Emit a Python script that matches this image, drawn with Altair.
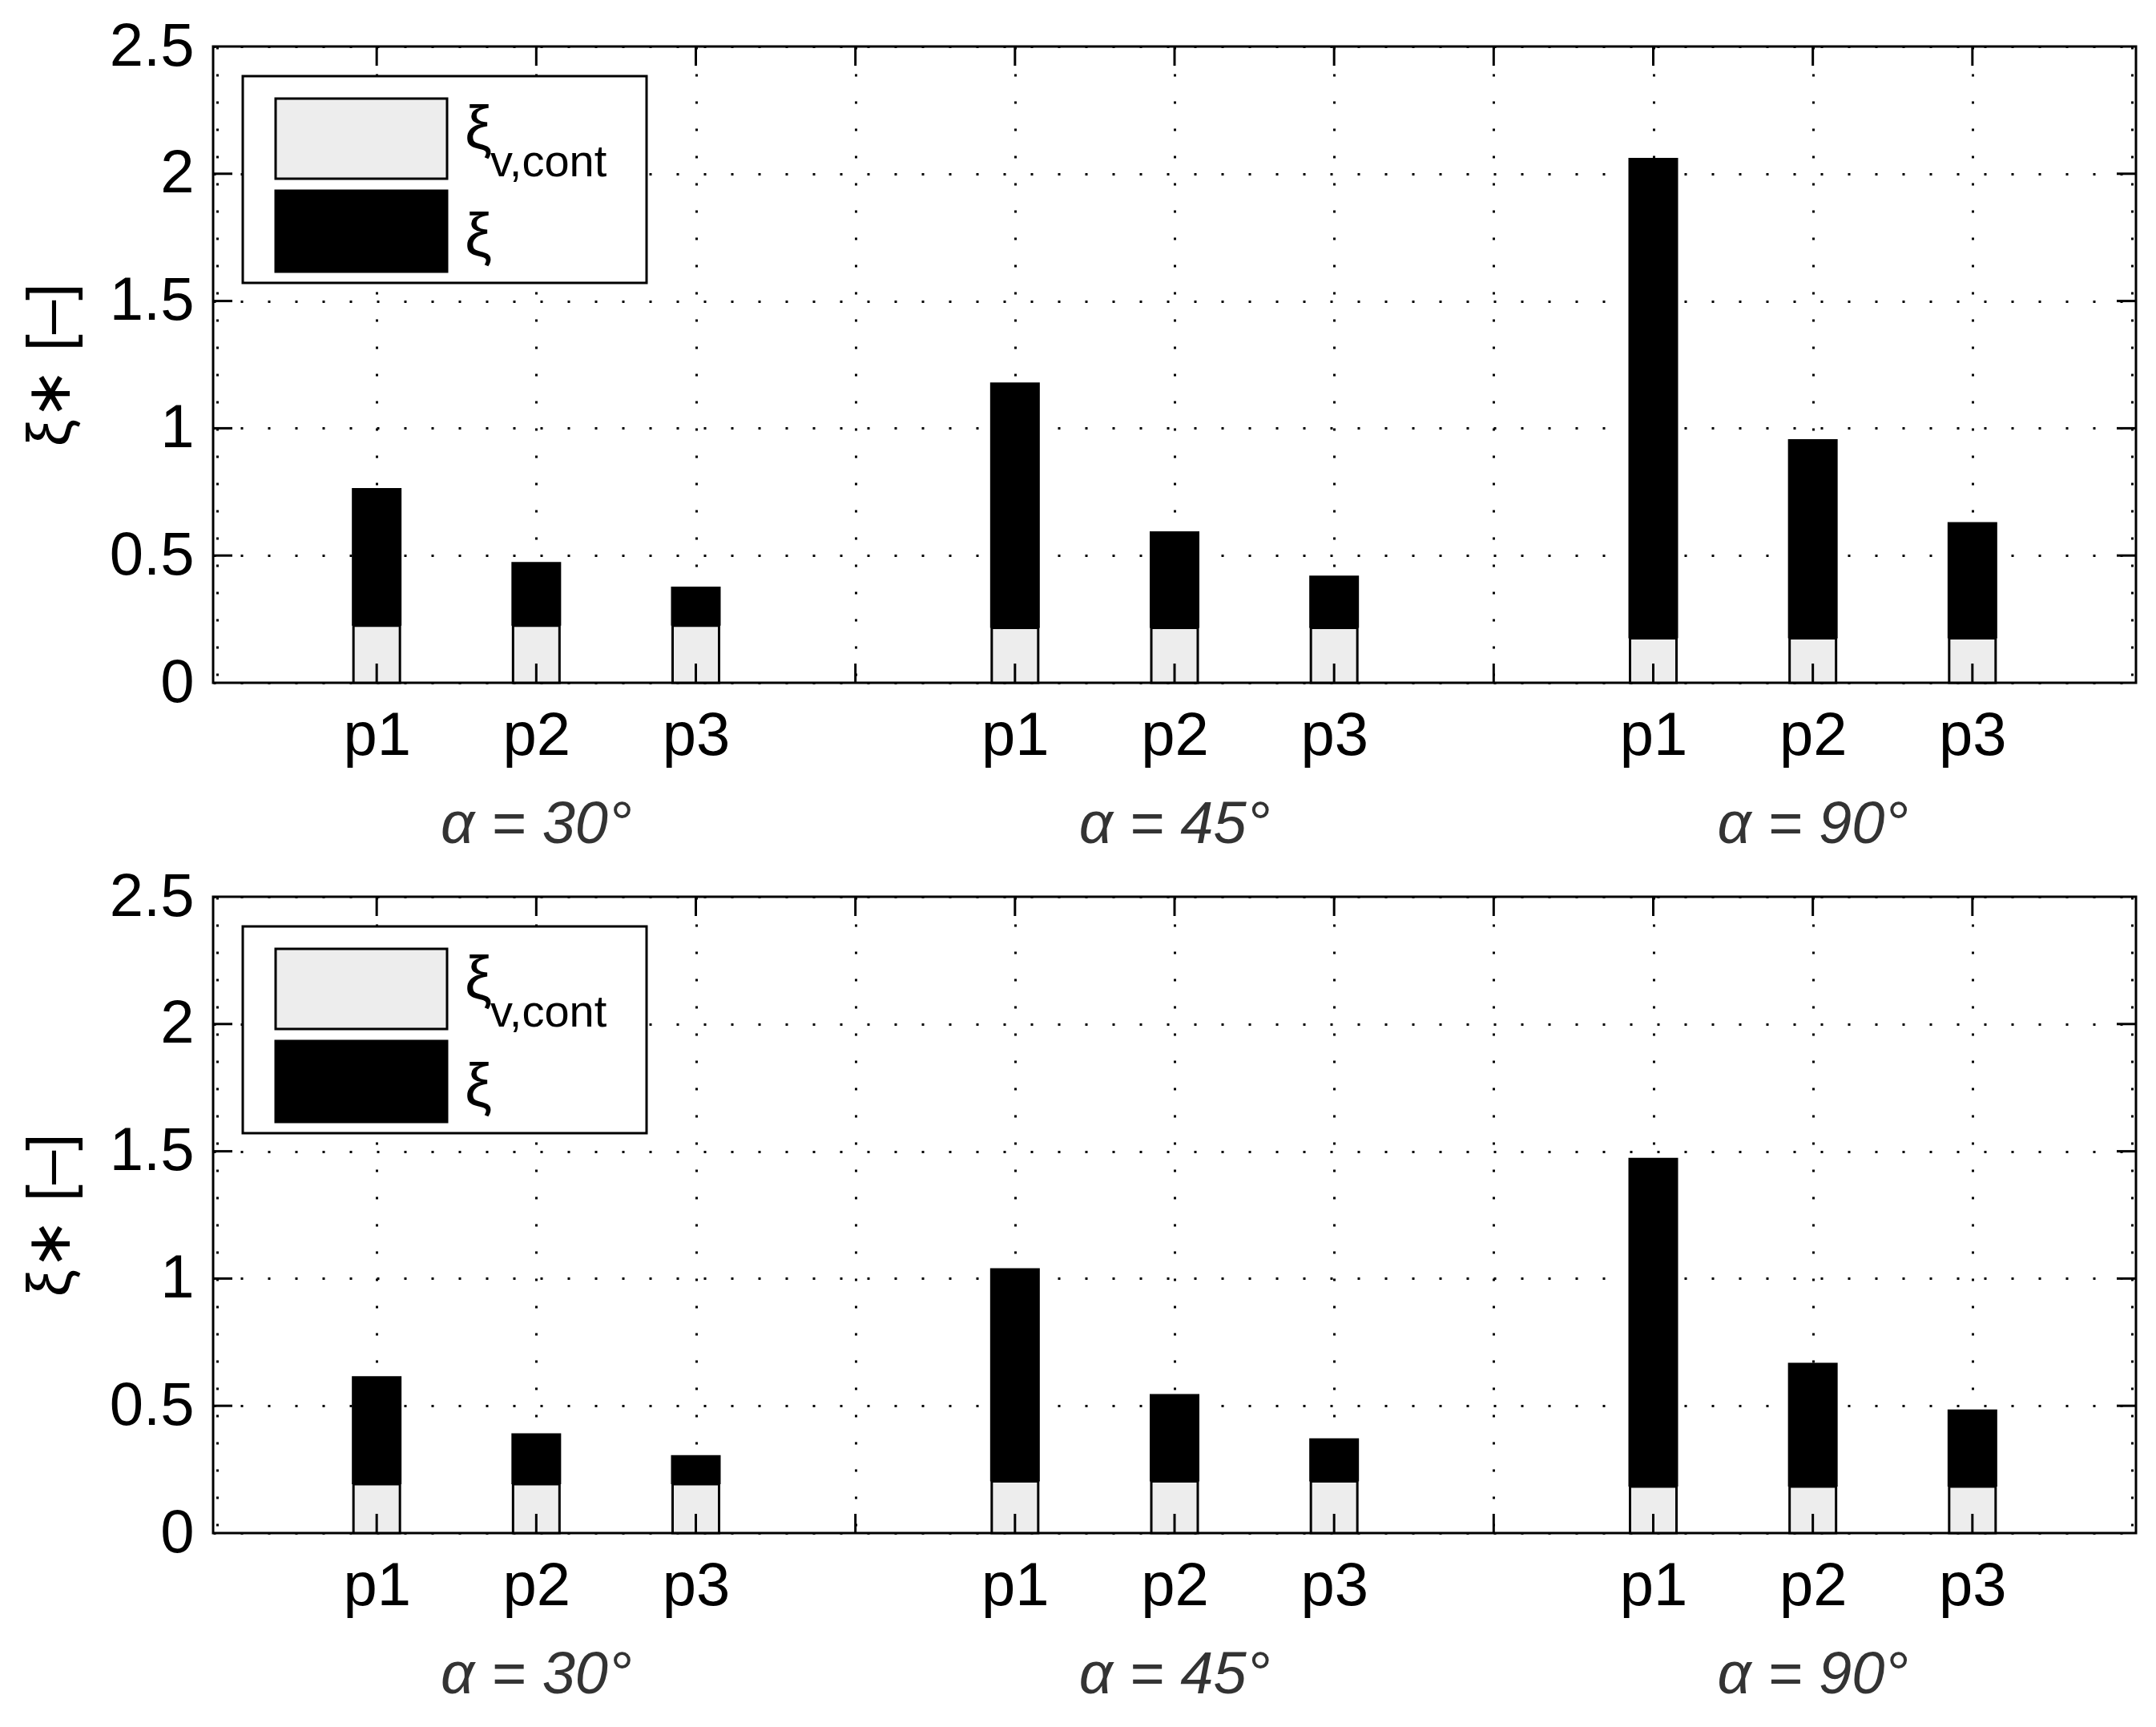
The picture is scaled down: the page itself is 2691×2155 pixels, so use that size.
import altair as alt
import pandas as pd

# ---- data ----
positions = [1, 2, 3, 5, 6, 7, 9, 10, 11]
point_names = ["p1", "p2", "p3", "p1", "p2", "p3", "p1", "p2", "p3"]
group_labels = ["α = 30°", "α = 45°", "α = 90°"]
group_centers = [2, 6, 10]

top_total = [0.765, 0.475, 0.378, 1.180, 0.595, 0.421, 2.062, 0.957, 0.631]
top_cont = [0.224, 0.224, 0.224, 0.216, 0.216, 0.216, 0.175, 0.175, 0.175]
bottom_total = [0.616, 0.392, 0.306, 1.041, 0.546, 0.372, 1.474, 0.669, 0.486]
bottom_cont = [0.192, 0.192, 0.192, 0.203, 0.203, 0.203, 0.183, 0.183, 0.183]

x_ticks = list(range(0, 13))
y_ticks = [0, 0.5, 1, 1.5, 2, 2.5]
legend_main = ["ξ", "ξ"]
legend_sub = ["v,cont"]
y_title = "ξ∗ [–]"

W, H = 2400, 794
FONT = "Liberation Sans"
FS = 76
LIGHT = "#ededed"

xscale = alt.Scale(domain=[0, 12], nice=False, zero=False)
yscale = alt.Scale(domain=[0, 2.5], nice=False)

xaxis = alt.Axis(
    values=x_ticks,
    labelExpr="datum.value % 4 == 0 ? '' : 'p' + (datum.value % 4)",
    grid=True, gridDash=[3, 31], gridColor="black", gridWidth=3, gridOpacity=1,
    ticks=False, tickSize=0, domain=False,
    labelFont=FONT, labelFontSize=FS, labelColor="black", labelPadding=29,
    labelBaseline="top", title=None,
)
yaxis = alt.Axis(
    values=y_ticks, format="~g",
    grid=True, gridDash=[3, 31], gridColor="black", gridWidth=3, gridOpacity=1,
    ticks=False, tickSize=0, domain=False,
    labelFont=FONT, labelFontSize=FS, labelColor="black", labelPadding=24,
    title=y_title, titleFont=FONT, titleFontSize=FS, titleFontWeight="normal",
    titleColor="black", titlePadding=34,
)


def X(field):
    return alt.X(field, scale=xscale, axis=xaxis)


def Y(field):
    return alt.Y(field, scale=yscale, axis=yaxis)


def panel(total, cont):
    df = pd.DataFrame({"pos": positions, "name": point_names, "total": total, "cont": cont})
    base = alt.Chart(df)

    dark = base.mark_bar(size=62, color="black").encode(
        x=X("pos:Q"), y=Y("total:Q"), y2="cont:Q",
    )
    light = base.mark_bar(size=58, fill=LIGHT, stroke="black", strokeWidth=3).encode(
        x=X("pos:Q"), y=Y("cont:Q"), y2=alt.datum(0),
    )

    xt = alt.Chart(pd.DataFrame({"t": x_ticks[1:-1]}))
    tick_bottom = xt.mark_rule(color="black", strokeWidth=3).encode(
        x=X("t:Q"), y=alt.value(H), y2=alt.value(H - 24))
    tick_top = xt.mark_rule(color="black", strokeWidth=3).encode(
        x=X("t:Q"), y=alt.value(0), y2=alt.value(24))
    yt = alt.Chart(pd.DataFrame({"v": y_ticks[1:-1]}))
    tick_left = yt.mark_rule(color="black", strokeWidth=3).encode(
        y=Y("v:Q"), x=alt.value(0), x2=alt.value(24))
    tick_right = yt.mark_rule(color="black", strokeWidth=3).encode(
        y=Y("v:Q"), x=alt.value(W - 24), x2=alt.value(W))

    groups = alt.Chart(pd.DataFrame({"g": group_labels, "c": group_centers})).mark_text(
        font=FONT, fontSize=74, fontStyle="italic", color="#333333", baseline="middle"
    ).encode(x=X("c:Q"), y=alt.value(H + 178), text="g:N")

    one = alt.Chart(pd.DataFrame({"k": [0]}))
    leg_box = one.mark_rect(fill="white", stroke="black", strokeWidth=3).encode(
        x=alt.value(37), x2=alt.value(541), y=alt.value(37), y2=alt.value(295))
    leg_light = one.mark_rect(fill=LIGHT, stroke="black", strokeWidth=3).encode(
        x=alt.value(78), x2=alt.value(292), y=alt.value(65), y2=alt.value(165))
    leg_dark = one.mark_rect(fill="black", stroke="black", strokeWidth=3).encode(
        x=alt.value(78), x2=alt.value(292), y=alt.value(180), y2=alt.value(281))
    leg_t1 = one.mark_text(text=legend_main[0], font=FONT, fontSize=FS, align="left",
                           baseline="alphabetic", color="black").encode(
        x=alt.value(314), y=alt.value(127))
    leg_sub = one.mark_text(text=legend_sub[0], font=FONT, fontSize=56, align="left",
                            baseline="alphabetic", color="black").encode(
        x=alt.value(346), y=alt.value(162))
    leg_t2 = one.mark_text(text=legend_main[1], font=FONT, fontSize=FS, align="left",
                           baseline="alphabetic", color="black").encode(
        x=alt.value(314), y=alt.value(261))

    return alt.layer(
        dark, light, tick_bottom, tick_top, tick_left, tick_right, groups,
        leg_box, leg_light, leg_dark, leg_t1, leg_sub, leg_t2,
    ).properties(width=W, height=H)


chart = alt.vconcat(
    panel(top_total, top_cont),
    panel(bottom_total, bottom_cont),
    spacing=267, bounds="flush",
).properties(
    padding={"left": 15, "top": 10, "right": 5, "bottom": 5},
    background="white",
).configure_view(stroke="black", strokeWidth=3)

chart.save("out.html", embed_options={"renderer": "svg", "actions": False})
